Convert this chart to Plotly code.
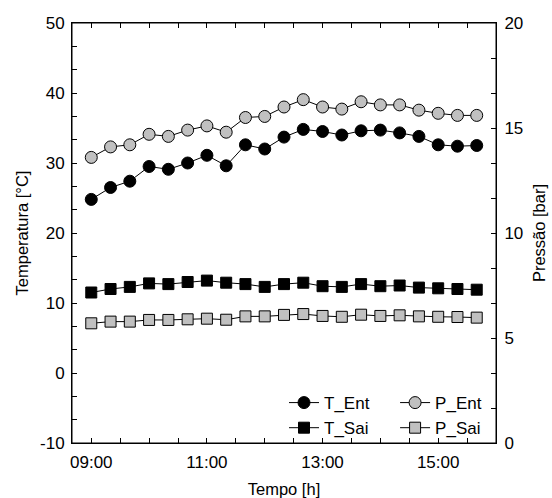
import plotly.graph_objects as go

tempo = ["09:00", "09:20", "09:40", "10:00", "10:20", "10:40", "11:00",
         "11:20", "11:40", "12:00", "12:20", "12:40", "13:00", "13:20",
         "13:40", "14:00", "14:20", "14:40", "15:00", "15:20", "15:40"]
t_ent = [24.8, 26.5, 27.4, 29.5, 29.1, 30.0, 31.1, 29.6, 32.6, 32.0, 33.7,
         34.8, 34.5, 34.0, 34.6, 34.7, 34.3, 33.8, 32.6, 32.4, 32.5]
t_sai = [11.5, 12.0, 12.3, 12.8, 12.7, 13.0, 13.2, 12.9, 12.7, 12.3, 12.7,
         12.9, 12.4, 12.3, 12.7, 12.4, 12.5, 12.2, 12.1, 12.0, 11.9]
p_ent = [13.6, 14.1, 14.2, 14.7, 14.6, 14.9, 15.1, 14.8, 15.5, 15.55, 16.0,
         16.35, 16.0, 15.9, 16.25, 16.1, 16.1, 15.85, 15.7, 15.6, 15.6]
p_sai = [5.70, 5.78, 5.78, 5.86, 5.86, 5.89, 5.92, 5.87, 6.03, 6.03, 6.10,
         6.14, 6.05, 6.01, 6.11, 6.05, 6.08, 6.03, 6.01, 6.00, 5.97]

x_labels = ["09:00", "11:00", "13:00", "15:00"]
t_labels = ["-10", "0", "10", "20", "30", "40", "50"]
p_labels = ["0", "5", "10", "15", "20"]

DAY = "2000-01-01 "
x = [DAY + t for t in tempo]

# tick positions (every 30 min / every 1/3 of a major step), labels only on majors
x_tickvals, x_ticktext = [], []
for h in range(9, 16):
    for m in (0, 30):
        s = f"{h:02d}:{m:02d}"
        x_tickvals.append(DAY + s)
        x_ticktext.append(s if s in x_labels else "")

t_tickvals, t_ticktext = [], []
for i in range(19):
    v = -10 + i * 10 / 3
    t_tickvals.append(v)
    t_ticktext.append(t_labels[i // 3] if i % 3 == 0 else "")

p_tickvals, p_ticktext = [], []
for i in range(13):
    v = i * 5 / 3
    p_tickvals.append(v)
    p_ticktext.append(p_labels[i // 3] if i % 3 == 0 else "")

FONT = "Liberation Sans, Arial, Helvetica, sans-serif"
GRAY = "#c0c0c0"

fig = go.Figure()

def add(name, y, sym, fill, size, yaxis, legend):
    fig.add_trace(go.Scatter(
        x=x, y=y, name=name, mode="lines+markers", yaxis=yaxis, legend=legend,
        line=dict(color="black", width=1),
        marker=dict(symbol=sym, size=size, color=fill,
                    line=dict(color="black", width=1)),
    ))

add("T_Ent", t_ent, "circle", "black", 12, "y", "legend")
add("T_Sai", t_sai, "square", "black", 11, "y", "legend")
add("P_Ent", p_ent, "circle", GRAY, 12, "y2", "legend2")
add("P_Sai", p_sai, "square", GRAY, 11, "y2", "legend2")

fig.update_layout(
    width=552, height=498,
    margin=dict(l=72, r=56, t=23, b=55, pad=0, autoexpand=False),
    paper_bgcolor="white", plot_bgcolor="white",
    font=dict(family=FONT, size=17, color="black"),
    showlegend=True,
    xaxis=dict(
        type="date", range=[DAY + "08:40", DAY + "16:00"],
        tickmode="array", tickvals=x_tickvals, ticktext=x_ticktext,
        showgrid=False, zeroline=False, showline=True, linecolor="black",
        linewidth=1, mirror="ticks", ticks="inside", ticklen=5,
        tickcolor="black", tickfont=dict(size=17), ticklabelstandoff=4,
        automargin=False,
        title=dict(text="Tempo [h]", font=dict(size=16.5), standoff=14),
    ),
    yaxis=dict(
        range=[-10, 50], tickmode="array", tickvals=t_tickvals,
        ticktext=t_ticktext,
        showgrid=False, zeroline=False, showline=True, linecolor="black",
        linewidth=1, ticks="inside", ticklen=5, tickcolor="black",
        tickfont=dict(size=17), ticklabelstandoff=3, automargin=False,
        title=dict(text="Temperatura [°C]", font=dict(size=16.5), standoff=7),
    ),
    yaxis2=dict(
        overlaying="y", side="right", range=[0, 20], tickmode="array",
        tickvals=p_tickvals, ticktext=p_ticktext,
        showgrid=False, zeroline=False, showline=True, linecolor="black",
        linewidth=1, ticks="inside", ticklen=5, tickcolor="black",
        tickfont=dict(size=17), ticklabelstandoff=4, automargin=False,
        title=dict(text="Pressão [bar]", font=dict(size=16.5), standoff=11),
    ),
    shapes=[dict(type="rect", xref="paper", yref="paper", x0=0, x1=1,
                 y0=0, y1=1, line=dict(color="black", width=1),
                 fillcolor="rgba(0,0,0,0)", layer="above")],
    legend=dict(x=0.5, xanchor="left", y=0.138, yanchor="top",
                bgcolor="rgba(0,0,0,0)", font=dict(size=17),
                tracegroupgap=0, itemsizing="trace"),
    legend2=dict(x=0.762, xanchor="left", y=0.138, yanchor="top",
                 bgcolor="rgba(0,0,0,0)", font=dict(size=17),
                 tracegroupgap=0, itemsizing="trace"),
)

fig.write_html("out.html")
